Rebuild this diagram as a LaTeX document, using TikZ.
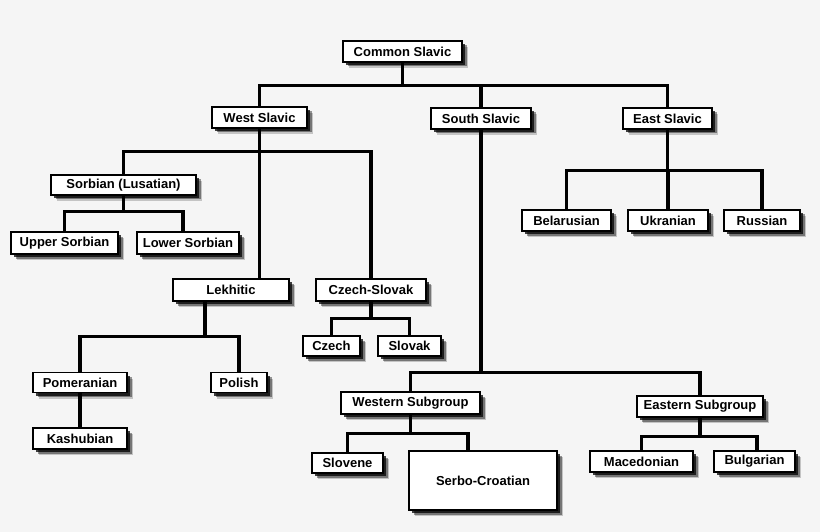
\documentclass[tikz,border=0pt]{standalone}
\usepackage{fontspec}
\setmainfont{Liberation Sans}
\usetikzlibrary{shadows,backgrounds}
\definecolor{paper}{HTML}{F5F5F5}
\tikzset{
  lang/.style={draw, fill=white, line width=1.2pt, inner sep=0pt, minimum height=21pt,
    font=\bfseries\fontsize{13}{15}\selectfont,
    drop shadow={shadow xshift=6pt, shadow yshift=-6pt, opacity=.2, fill=black},
    drop shadow={shadow xshift=4.5pt, shadow yshift=-4.5pt, opacity=.4, fill=black},
    drop shadow={shadow xshift=3pt, shadow yshift=-3pt, opacity=.75, fill=black}},
  link/.style={line width=3.3pt}
}

\begin{document}
\begin{tikzpicture}[x=1pt,y=-1pt]
  \begin{scope}[on background layer]
    \fill[paper] (0,0) rectangle (820,532);
  \end{scope}
  \useasboundingbox (0,0) rectangle (820,532);

  % top
  \node[lang, minimum width=119pt] (cs) at (402.5,51.5) {Common Slavic};
  \node[lang, minimum width=95pt] (ws) at (259.5,117.5) {West Slavic};
  \node[lang, minimum width=100pt] (ss) at (481,118.5) {South Slavic};
  \node[lang, minimum width=89pt] (es) at (667.5,118.5) {East Slavic};
  % west
  \node[lang, minimum width=145pt, minimum height=20pt] (sorb) at (123.5,185) {Sorbian (Lusatian)};
  \node[lang, minimum width=107pt, minimum height=22pt] (usorb) at (64.5,243) {Upper Sorbian};
  \node[lang, minimum width=102pt, minimum height=22pt] (lsorb) at (188,243) {Lower Sorbian};
  \node[lang, minimum width=116pt, minimum height=22pt] (lek) at (231,290) {Lekhitic};
  \node[lang, minimum width=110pt, minimum height=22pt] (czsk) at (371,290) {Czech-Slovak};
  \node[lang, minimum width=57pt, minimum height=20pt] (cz) at (331.5,346) {Czech};
  \node[lang, minimum width=63pt, minimum height=20pt] (sk) at (409.5,346) {Slovak};
  \node[lang, minimum width=94pt, minimum height=20pt] (pom) at (80,382.5) {Pomeranian};
  \node[lang, minimum width=56pt, minimum height=20pt] (pol) at (239,382.5) {Polish};
  \node[lang, minimum width=94pt] (kas) at (80,438.5) {Kashubian};
  % east
  \node[lang, minimum width=89pt] (bel) at (566.5,220.5) {Belarusian};
  \node[lang, minimum width=80pt] (ukr) at (668,220.5) {Ukranian};
  \node[lang, minimum width=76pt] (rus) at (762,220.5) {Russian};
  % south
  \node[lang, minimum width=139pt, minimum height=22pt] (wsg) at (410.5,403) {Western Subgroup};
  \node[lang, minimum width=126pt] (esg) at (700,406.5) {Eastern Subgroup};
  \node[lang, minimum width=71pt, minimum height=20pt] (slo) at (347.5,463) {Slovene};
  \node[lang, minimum width=148pt, minimum height=59pt] (sc) at (483,480.5) {Serbo-Croatian};
  \node[lang, minimum width=103pt] (mac) at (641.5,461.5) {Macedonian};
  \node[lang, minimum width=81pt] (bul) at (754.5,461.5) {Bulgarian};

  \begin{scope}[on background layer]
    \foreach \c in {ws,ss,es}
      \draw[link] (cs.south) -- ++(0,23) -| (\c.north);
    \foreach \c in {sorb,czsk}
      \draw[link] (ws.south) -- ++(0,23) -| (\c.north);
    \draw[link] (ws.south) -- (ws.south |- lek.north);
    \draw[link] (sorb.south) -- ++(0,16) -| (usorb.north);
    \draw[link] (sorb.south) -- ++(0,16) -| ([xshift=-5pt]lsorb.north);
    \foreach \c in {pom,pol}
      \draw[link] ([xshift=-26pt]lek.south) -- ++(0,35) -| (\c.north);
    \draw[link] (pom) -- (kas);
    \foreach \c in {cz,sk}
      \draw[link] (czsk.south) -- ++(0,17) -| (\c.north);
    \foreach \c in {wsg,esg}
      \draw[link] (ss.south) -- ++(0,243) -| (\c.north);
    \draw[link] (wsg.south) -- ++(0,19) -| (slo.north);
    \draw[link] (wsg.south) -- ++(0,19) -| ([xshift=-15pt]sc.north);
    \draw[link] (esg.south) -- ++(0,19) -| (mac.north);
    \draw[link] (esg.south) -- ++(0,19) -| ([xshift=2.5pt]bul.north);
    \foreach \c in {bel,ukr,rus}
      \draw[link] (es.south) -- ++(0,41) -| (\c.north);
  \end{scope}
\end{tikzpicture}
\end{document}
